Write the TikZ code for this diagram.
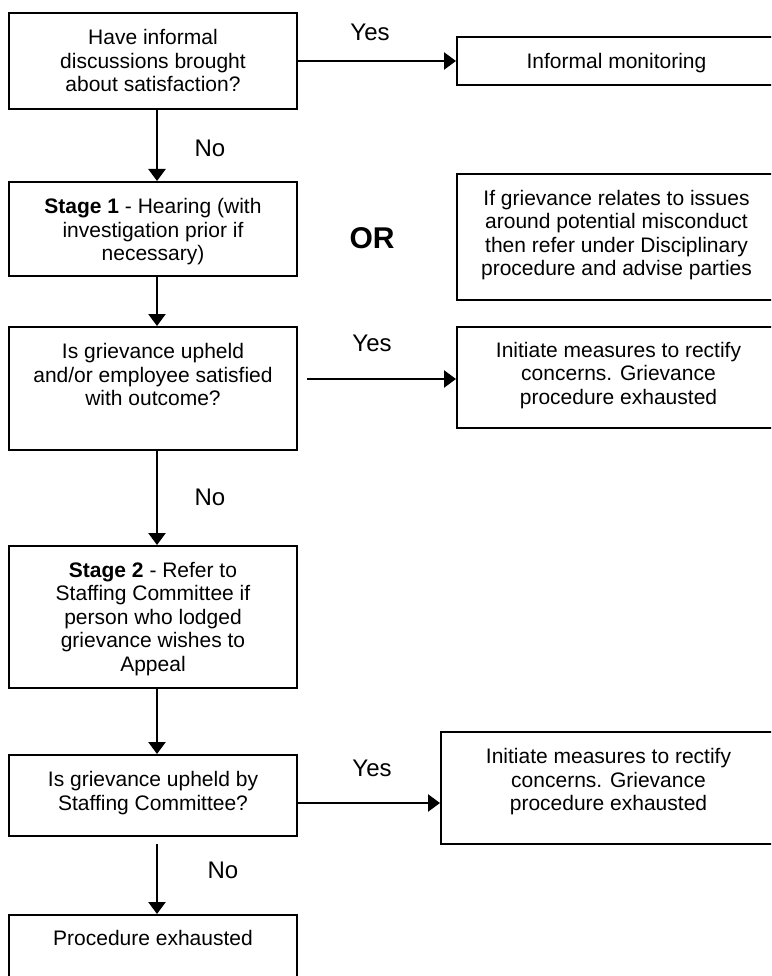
\documentclass[tikz,border=0pt]{standalone}
\usepackage{fontspec}
\setmainfont{Liberation Sans}
\usetikzlibrary{arrows.meta}
\begin{document}
\begin{tikzpicture}[x=1pt,y=-1pt,
  box/.style={draw=black, line width=2pt, inner sep=0pt, fill=none},
  txt/.style={inner sep=0pt, align=center, anchor=north, font=\fontsize{21}{23.5}\selectfont},
  lab/.style={inner sep=0pt, font=\fontsize{24}{28}\selectfont},
  arr/.style={line width=2.4pt, -{Triangle[length=12pt,width=17pt]}}]
\fill[white] (0,0) rectangle (771,976);
\useasboundingbox (0,0) rectangle (771,976);
\clip (0,0) rectangle (771,976);

% boxes
\node[box, minimum width=288pt, minimum height=96pt]  (b1)    at (153,61)    {};
\node[box, minimum width=319pt, minimum height=48pt]  (mon)   at (616.5,61)  {};
\node[box, minimum width=288pt, minimum height=94pt]  (s1)    at (153,229)   {};
\node[box, minimum width=319pt, minimum height=126pt] (mis)   at (616.5,237) {};
\node[box, minimum width=288pt, minimum height=123pt] (q2)    at (153,388.5) {};
\node[box, minimum width=319pt, minimum height=101pt] (init1) at (616.5,377.5) {};
\node[box, minimum width=288pt, minimum height=142pt] (s2)    at (153,617)   {};
\node[box, minimum width=288pt, minimum height=81pt]  (q3)    at (153,795.5) {};
\node[box, minimum width=335pt, minimum height=112pt] (init2) at (608.5,788) {};
\node[box, minimum width=288pt, minimum height=85pt]  (pe)    at (153,957.5) {};

% texts
\node[txt] (b1t)    at ([yshift=-17.5pt]b1.north)    {Have informal\\discussions brought\\about satisfaction?};
\node[txt] (mont)   at ([yshift=-17pt]mon.north)     {Informal monitoring};
\node[txt] (s1t)    at ([yshift=-17.5pt]s1.north)    {\textbf{Stage 1} - Hearing (with\\investigation prior if\\necessary)};
\node[txt] (mist)   at ([yshift=-17pt]mis.north)     {If grievance relates to issues\\around potential misconduct\\then refer under Disciplinary\\procedure and advise parties};
\node[txt] (q2t)    at ([yshift=-17.5pt]q2.north)    {Is grievance upheld\\and/or employee satisfied\\with outcome?};
\node[txt] (init1t) at ([xshift=2pt,yshift=-16pt]init1.north) {Initiate measures to rectify\\concerns. Grievance\\procedure exhausted};
\node[txt] (s2t)    at ([yshift=-17pt]s2.north)      {\textbf{Stage 2} - Refer to\\Staffing Committee if\\person who lodged\\grievance wishes to\\Appeal};
\node[txt] (q3t)    at ([yshift=-17.5pt]q3.north)    {Is grievance upheld by\\Staffing Committee?};
\node[txt] (init2t) at ([yshift=-17.5pt]init2.north) {Initiate measures to rectify\\concerns. Grievance\\procedure exhausted};
\node[txt] (pet)    at ([yshift=-16.5pt]pe.north)    {Procedure exhausted};

\node[inner sep=0pt, font=\fontsize{30}{34}\selectfont\bfseries] (or) at (372,238) {OR};

% labels
\node[lab] (yes1) at (370,32)  {Yes};
\node[lab] (no1)  at (210,148) {No};
\node[lab] (yes2) at (372,343) {Yes};
\node[lab] (no2)  at (210,497) {No};
\node[lab] (yes3) at (372,768) {Yes};
\node[lab] (no3)  at (223,870) {No};

% connectors
\draw[arr] ([xshift=4pt]b1.south) -- ([xshift=4pt]s1.north);
\draw[arr] (b1.east) -- (mon.west);
\draw[arr] ([xshift=4pt]s1.south) -- ([xshift=4pt]q2.north);
\draw[arr] ([xshift=9pt,yshift=9.5pt]q2.east) coordinate (y2s) -- (y2s -| init1.west);
\draw[arr] ([xshift=4pt]q2.south) -- ([xshift=4pt]s2.north);
\draw[arr] ([xshift=4pt]s2.south) -- ([xshift=4pt]q3.north);
\draw[arr] ([yshift=-7.5pt]q3.east) coordinate (y3s) -- (y3s -| init2.west);
\draw[arr] ([xshift=4pt,yshift=-7pt]q3.south) -- ([xshift=4pt]pe.north);
\end{tikzpicture}
\end{document}
